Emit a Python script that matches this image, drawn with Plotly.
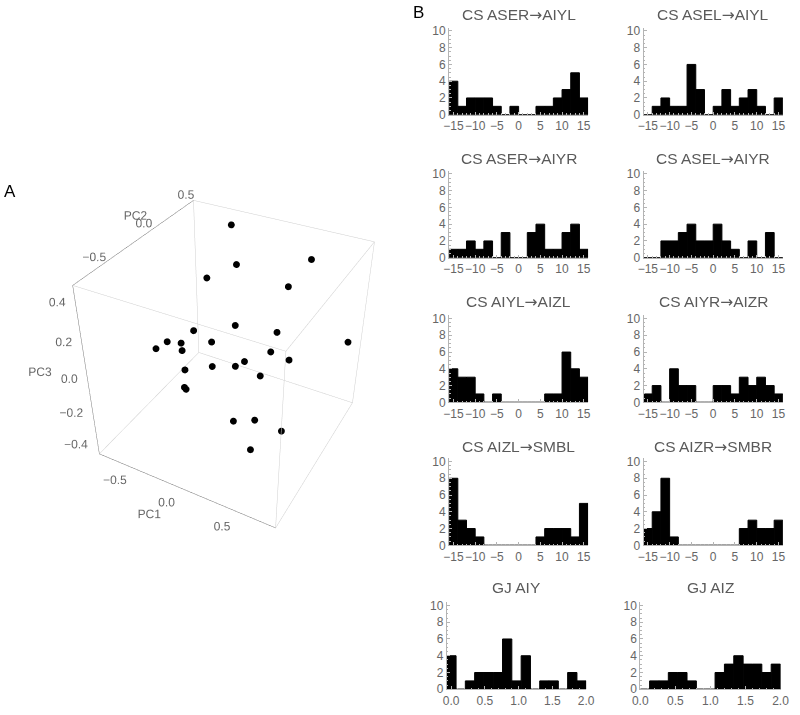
import plotly.graph_objects as go

# ---------------- Panel A: PCA scores ----------------
pc1 = [-0.31, 0.46, -0.125, -0.41, 0.345, 0.055, 0.265, -0.18, -0.35, -0.43, -0.205, 0.80, -0.39, -0.34,
       0.215, 0.39, 0.11, 0.02, -0.01, -0.28, 0.35, -0.21, -0.22, 0.21, 0.25, 0.56, 0.515]
pc2 = [0.46, 0.39, 0.26, 0.26, 0.26, -0.02, 0.26, -0.22, -0.32, -0.07, 0.03, 0.49, -0.40, -0.17,
       0.26, 0.26, 0.03, -0.27, 0.08, -0.22, -0.12, -0.32, -0.29, -0.27, -0.02, -0.12, -0.50]
pc3 = [0.41, 0.36, 0.29, 0.17, 0.245, 0.095, -0.03, 0.11, 0.06, -0.08, -0.075, -0.09, 0.05, -0.06,
       -0.16, -0.175, -0.13, -0.03, -0.21, -0.14, -0.09, -0.18, -0.21, -0.32, -0.45, -0.385, -0.28]

pc1_range = [-0.72, 0.90]
pc2_range = [-0.76, 0.52]
pc3_range = [-0.48, 0.47]
pc1_ticks = [-0.5, 0.0, 0.5]
pc2_ticks = [-0.5, 0.0, 0.5]
pc3_ticks = [-0.4, -0.2, 0.0, 0.2, 0.4]

# ---------------- Panel B: histograms ----------------
cs_left_edges = [-16, -14, -12, -10, -8, -6, -4, -2, 0, 2, 4, 6, 8, 10, 12, 14]
cs_bin_width = 2
gj_aiy_left_edges = [-0.065, 0.073, 0.210, 0.348, 0.486, 0.624, 0.761, 0.899, 1.037, 1.175,
                     1.312, 1.450, 1.588, 1.726, 1.864]
gj_aiy_bin_width = 0.1377
gj_aiz_left_edges = [0.0, 0.1333, 0.2667, 0.4, 0.5333, 0.6667, 0.8, 0.9333, 1.0667, 1.2,
                     1.3333, 1.4667, 1.6, 1.7333, 1.8667]
gj_aiz_bin_width = 0.1333

cs_aser_aiyl = [4, 1, 2, 2, 2, 1, 0, 1, 0, 0, 1, 1, 2, 3, 5, 2]
cs_asel_aiyl = [0, 1, 2, 1, 1, 6, 3, 0, 1, 3, 1, 2, 3, 1, 0, 2]
cs_aser_aiyr = [1, 1, 2, 1, 2, 0, 3, 0, 0, 3, 4, 1, 1, 3, 4, 1]
cs_asel_aiyr = [0, 0, 2, 2, 3, 4, 2, 2, 4, 2, 1, 0, 2, 0, 3, 0]
cs_aiyl_aizl = [4, 3, 3, 1, 0, 1, 0, 0, 0, 0, 0, 1, 1, 6, 4, 3]
cs_aiyr_aizr = [1, 2, 0, 4, 2, 2, 0, 0, 2, 2, 1, 3, 2, 3, 2, 1]
cs_aizl_smbl = [8, 3, 2, 1, 0, 0, 0, 0, 0, 0, 1, 2, 2, 2, 1, 5]
cs_aizr_smbr = [2, 4, 8, 1, 0, 0, 0, 0, 0, 0, 0, 2, 3, 2, 2, 3]
gj_aiy = [4, 0, 1, 2, 2, 2, 6, 1, 4, 0, 1, 1, 0, 2, 1]
gj_aiz = [0, 1, 1, 2, 2, 1, 0, 0, 2, 3, 4, 3, 3, 2, 3]

titles = [("CS ASER", "AIYL"), ("CS ASEL", "AIYL"), ("CS ASER", "AIYR"), ("CS ASEL", "AIYR"),
          ("CS AIYL", "AIZL"), ("CS AIYR", "AIZR"), ("CS AIZL", "SMBL"), ("CS AIZR", "SMBR"),
          ("GJ AIY", None), ("GJ AIZ", None)]
series = [cs_aser_aiyl, cs_asel_aiyl, cs_aser_aiyr, cs_asel_aiyr, cs_aiyl_aizl,
          cs_aiyr_aizr, cs_aizl_smbl, cs_aizr_smbr, gj_aiy, gj_aiz]

cs_tickvals = [-15, -10, -5, 0, 5, 10, 15]
cs_ticktext = ["−15", "−10", "−5", "0", "5", "10", "15"]
gj_tickvals = [0, 0.5, 1.0, 1.5, 2.0]
gj_ticktext = ["0.0", "0.5", "1.0", "1.5", "2.0"]
y_tickvals = [0, 2, 4, 6, 8, 10]

W, H = 800, 715
FONT = "Liberation Sans"
TICK_COL = "#666666"
AXIS_COL = "#b4b4b4"

fig = go.Figure()

# ---------- 3D scatter ----------
fig.add_trace(go.Scatter3d(x=pc1, y=pc2, z=pc3, mode="markers",
                           marker=dict(size=4, color="black", line=dict(width=0)),
                           scene="scene", hoverinfo="skip"))

x0, x1 = pc1_range
y0, y1 = pc2_range
z0, z1 = pc3_range
lx, ly, lz = [], [], []
ax_x, ax_y, ax_z = [], [], []
for (yy, zz) in [(y0, z0), (y1, z0), (y0, z1), (y1, z1)]:
    tgt = (ax_x, ax_y, ax_z) if (yy, zz) == (y0, z0) else (lx, ly, lz)
    tgt[0].extend([x0, x1, None]); tgt[1].extend([yy, yy, None]); tgt[2].extend([zz, zz, None])
for (xx, zz) in [(x0, z0), (x1, z0), (x0, z1), (x1, z1)]:
    tgt = (ax_x, ax_y, ax_z) if (xx, zz) == (x0, z1) else (lx, ly, lz)
    tgt[0].extend([xx, xx, None]); tgt[1].extend([y0, y1, None]); tgt[2].extend([zz, zz, None])
for (xx, yy) in [(x0, y0), (x1, y0), (x0, y1), (x1, y1)]:
    tgt = (ax_x, ax_y, ax_z) if (xx, yy) == (x0, y0) else (lx, ly, lz)
    tgt[0].extend([xx, xx, None]); tgt[1].extend([yy, yy, None]); tgt[2].extend([z0, z1, None])

fig.add_trace(go.Scatter3d(x=lx, y=ly, z=lz, mode="lines", line=dict(color="#cfcfcf", width=1),
                           scene="scene", hoverinfo="skip", connectgaps=False))
fig.add_trace(go.Scatter3d(x=ax_x, y=ax_y, z=ax_z, mode="lines", line=dict(color="#7a7a7a", width=1),
                           scene="scene", hoverinfo="skip", connectgaps=False))

def fmt(v):
    s = "%.1f" % v
    return s.replace("-", "−")

tf3 = dict(family=FONT, size=12, color=TICK_COL)
# PC1 tick labels (below front-bottom edge)
fig.add_trace(go.Scatter3d(x=pc1_ticks, y=[y0 - 0.08] * len(pc1_ticks), z=[z0 - 0.06] * len(pc1_ticks),
                           mode="text", text=[fmt(v) for v in pc1_ticks], textposition="middle center",
                           textfont=tf3, scene="scene", hoverinfo="skip"))
# PC2 tick labels (above top-left edge)
fig.add_trace(go.Scatter3d(x=[x0 - 0.06] * len(pc2_ticks), y=pc2_ticks, z=[z1 + 0.03] * len(pc2_ticks),
                           mode="text", text=[fmt(v) for v in pc2_ticks], textposition="middle center",
                           textfont=tf3, scene="scene", hoverinfo="skip"))
# PC3 tick labels (left of left vertical edge)
fig.add_trace(go.Scatter3d(x=[x0 + 0.03] * len(pc3_ticks), y=[y0 - 0.01] * len(pc3_ticks), z=pc3_ticks,
                           mode="text", text=[fmt(v) for v in pc3_ticks], textposition="middle left",
                           textfont=tf3, scene="scene", hoverinfo="skip"))
# axis titles
fig.add_trace(go.Scatter3d(x=[0.0, x0 - 0.02, x0 - 0.24], y=[y0 - 0.26, -0.12, y0], z=[z0 - 0.004, z1 + 0.11, -0.025],
                           mode="text", text=["PC1", "PC2", "PC3"],
                           textposition=["middle center", "middle center", "middle left"],
                           textfont=tf3, scene="scene", hoverinfo="skip"))

# scene extends beyond the drawn box so labels are not clipped; the box itself stays a cube
mx, my, mz = 0.35, 0.35, 0.30
sx = [x0 - mx, x1 + mx]
sy = [y0 - my, y1 + my]
sz = [z0 - mz, z1 + mz]
aspect = dict(x=(sx[1] - sx[0]) / (x1 - x0), y=(sy[1] - sy[0]) / (y1 - y0), z=(sz[1] - sz[0]) / (z1 - z0))

def ax3(rng):
    return dict(range=rng, autorange=False, showgrid=False, zeroline=False, showline=False,
                showticklabels=False, ticks="", title=dict(text=""), showbackground=False,
                showspikes=False, visible=False)

layout = dict(
    width=W, height=H, margin=dict(l=0, r=0, t=0, b=0),
    paper_bgcolor="white", plot_bgcolor="white", showlegend=False,
    scene=dict(domain=dict(x=[0.02, 0.55], y=[0.1024, 0.9074]), aspectmode="manual", aspectratio=aspect,
               camera=dict(eye=dict(x=1.3, y=-2.4, z=2.0), center=dict(x=0, y=0, z=0),
                           up=dict(x=0, y=0, z=1), projection=dict(type="perspective")),
               xaxis=ax3(sx), yaxis=ax3(sy), zaxis=ax3(sz)),
)

# ---------- histograms ----------
col_dom_cs = [[450.7, 592.7], [649.3, 791.7]]
col_dom_gj = [[448.3, 590.7], [646.0, 789.3]]
gj_ranges = [[-0.065, 2.0], [0.0, 2.0]]
gj_edges = [gj_aiy_left_edges, gj_aiz_left_edges]
gj_widths = [gj_aiy_bin_width, gj_aiz_bin_width]
row_zero = [113.3, 258.3, 405.0, 550.0, 696.0]
title_y = [12.3, 158.0, 303.0, 450.0, 593.0]
y_top = 10.4
px_per_count = 8.5

annotations = []
for i, (ttl, cnt) in enumerate(zip(titles, series)):
    r, c = divmod(i, 2)
    gj = r == 4
    n = i + 1
    xa = "x" if n == 1 else "x%d" % n
    ya = "y" if n == 1 else "y%d" % n
    fig.add_trace(go.Bar(x=gj_edges[c] if gj else cs_left_edges, y=cnt,
                         width=gj_widths[c] if gj else cs_bin_width, offset=0,
                         marker=dict(color="black", line=dict(width=1, color="black")),
                         xaxis=xa, yaxis=ya, hoverinfo="skip"))
    dx = (col_dom_gj if gj else col_dom_cs)[c]
    yb = row_zero[r]
    yt = yb - y_top * px_per_count
    xkey = "xaxis" if n == 1 else "xaxis%d" % n
    ykey = "yaxis" if n == 1 else "yaxis%d" % n
    layout[xkey] = dict(domain=[dx[0] / W, dx[1] / W], anchor=ya,
                        range=gj_ranges[c] if gj else [-16, 16],
                        tickmode="array",
                        tickvals=gj_tickvals if gj else cs_tickvals,
                        ticktext=gj_ticktext if gj else cs_ticktext,
                        tickangle=0, showgrid=False, zeroline=False,
                        showline=True, linecolor=AXIS_COL, linewidth=1,
                        ticks="inside", ticklen=3, tickcolor=AXIS_COL,
                        minor=dict(ticks="inside", ticklen=1.5, tickcolor=AXIS_COL,
                                   dtick=0.1 if gj else 1),
                        tickfont=dict(family=FONT, size=12, color=TICK_COL), fixedrange=True)
    layout[ykey] = dict(domain=[(H - yb) / H, (H - yt) / H], anchor=xa,
                        range=[0, y_top], tickmode="array", tickvals=y_tickvals,
                        showgrid=False, zeroline=False, showline=True, linecolor=AXIS_COL, linewidth=1,
                        ticks="inside", ticklen=3, tickcolor=AXIS_COL,
                        minor=dict(ticks="inside", ticklen=1.5, tickcolor=AXIS_COL, dtick=0.5),
                        tickfont=dict(family=FONT, size=12, color=TICK_COL), fixedrange=True)
    if ttl[1] is None:
        txt = ttl[0]
    else:
        txt = ttl[0] + "<span style='font-family:DejaVu Sans'>→</span>" + ttl[1]
    annotations.append(dict(text=txt, x=(dx[0] + dx[1]) / 2 / W, y=(H - title_y[r]) / H,
                            xref="paper", yref="paper", xanchor="center", yanchor="middle",
                            showarrow=False, font=dict(family=FONT, size=15.5, color="#5a5a5a")))

annotations.append(dict(text="A", x=-6.0 / W, y=(H - 191) / H, xref="paper", yref="paper",
                        xanchor="left", yanchor="middle", showarrow=False,
                        font=dict(family=FONT, size=17, color="black")))
annotations.append(dict(text="B", x=412 / W, y=(H - 10) / H, xref="paper", yref="paper",
                        xanchor="left", yanchor="middle", showarrow=False,
                        font=dict(family=FONT, size=17, color="black")))
layout["annotations"] = annotations
fig.update_layout(**layout)
fig.write_html("out.html", config={"displayModeBar": False},
               post_script="document.body.style.margin='0px';document.body.style.padding='0px';")
